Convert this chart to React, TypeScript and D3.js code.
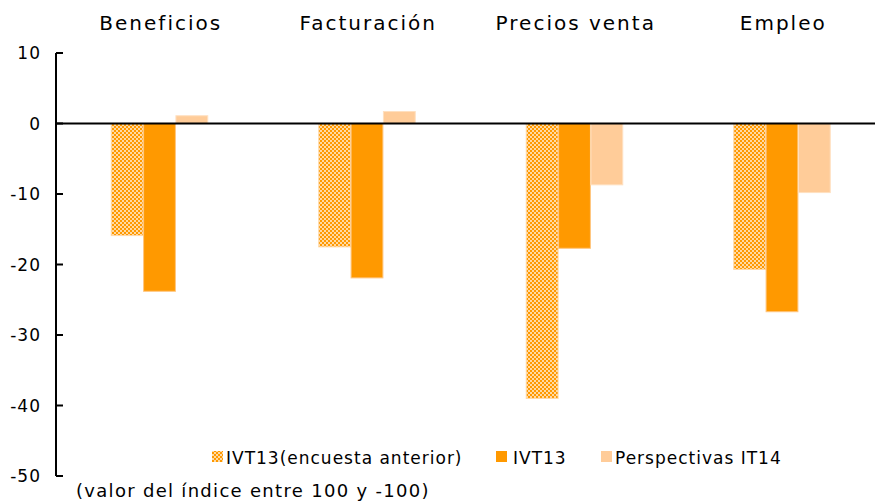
import React from "react";
import * as d3 from "d3";

const categories = ["Beneficios", "Facturación", "Precios venta", "Empleo"];
const seriesNames = ["IVT13(encuesta anterior)", "IVT13", "Perspectivas IT14"];
const prevSurvey = [-15.9, -17.5, -39.0, -20.7];
const ivt13 = [-23.8, -21.9, -17.7, -26.7];
const outlook = [1.1, 1.7, -8.7, -9.8];
const yTicks = [10, 0, -10, -20, -30, -40, -50];

const seriesValues = [prevSurvey, ivt13, outlook];
const fills = ["url(#checker)", "#FF9900", "#FFCC99"];
const strokes = ["#FFD9A8", "#FFC680", "#FFE0C0"];

export default function App() {
  const W = 875;
  const H = 502;
  const x0 = 56;
  const groupW = 207.5;
  const x = d3.scaleBand<string>().domain(categories).range([x0, x0 + groupW * categories.length]).padding(0);
  const barGroup = 97;
  const inner = d3
    .scaleBand<number>()
    .domain([0, 1, 2])
    .range([(x.bandwidth() - barGroup) / 2, (x.bandwidth() + barGroup) / 2])
    .padding(0);
  const y = d3.scaleLinear().domain([-50, 10]).range([476, 53]);
  const font = "'DejaVu Sans', Verdana, sans-serif";

  const legendItems = [
    { x: 212, tx: 226 },
    { x: 496, tx: 513 },
    { x: 601, tx: 615 },
  ];

  return (
    <svg width={W} height={H} style={{ position: "absolute", left: 0, top: 0, background: "#fff" }}>
      <defs>
        <pattern id="checker" width={4} height={4} patternUnits="userSpaceOnUse">
          <rect width={4} height={4} fill="#FF9900" />
          <rect x={2.2} y={0.2} width={1.6} height={1.6} fill="#FFFFFF" />
          <rect x={0.2} y={2.2} width={1.6} height={1.6} fill="#FFFFFF" />
        </pattern>
      </defs>
      {categories.map((c) => (
        <text
          key={c}
          x={(x(c) as number) + x.bandwidth() / 2 + 1}
          y={30}
          textAnchor="middle"
          fontFamily={font}
          fontSize={20}
          letterSpacing={2}
          fill="#000"
        >
          {c}
        </text>
      ))}
      {seriesValues.map((vals, si) =>
        categories.map((c, ci) => {
          const v = vals[ci];
          const bx = (x(c) as number) + (inner(si) as number);
          const top = y(Math.max(0, v));
          const h = Math.abs(y(v) - y(0));
          return (
            <rect
              key={`${si}-${ci}`}
              x={bx}
              y={top}
              width={inner.bandwidth() - 0.5}
              height={h}
              fill={fills[si]}
              stroke={strokes[si]}
              strokeWidth={1}
            />
          );
        })
      )}
      <line x1={x0} x2={W} y1={y(0)} y2={y(0)} stroke="#000" strokeWidth={2} />
      <line x1={x0} x2={x0} y1={y(10)} y2={y(-50)} stroke="#000" strokeWidth={2} />
      {yTicks.map((t) => (
        <g key={t}>
          <line x1={x0} x2={x0 + 7} y1={y(t)} y2={y(t)} stroke="#000" strokeWidth={2} />
          <text x={41} y={y(t) + 6} textAnchor="end" fontFamily={font} fontSize={17} letterSpacing={1} fill="#000">
            {t}
          </text>
        </g>
      ))}
      {seriesNames.map((n, i) => (
        <g key={n}>
          <rect x={legendItems[i].x} y={451} width={11} height={11} fill={fills[i]} />
          <text x={legendItems[i].tx} y={464} fontFamily={font} fontSize={17} letterSpacing={1} fill="#000">
            {n}
          </text>
        </g>
      ))}
      <text x={76} y={497} fontFamily={font} fontSize={18} letterSpacing={1.3} fill="#000">
        (valor del índice entre 100 y -100)
      </text>
    </svg>
  );
}
